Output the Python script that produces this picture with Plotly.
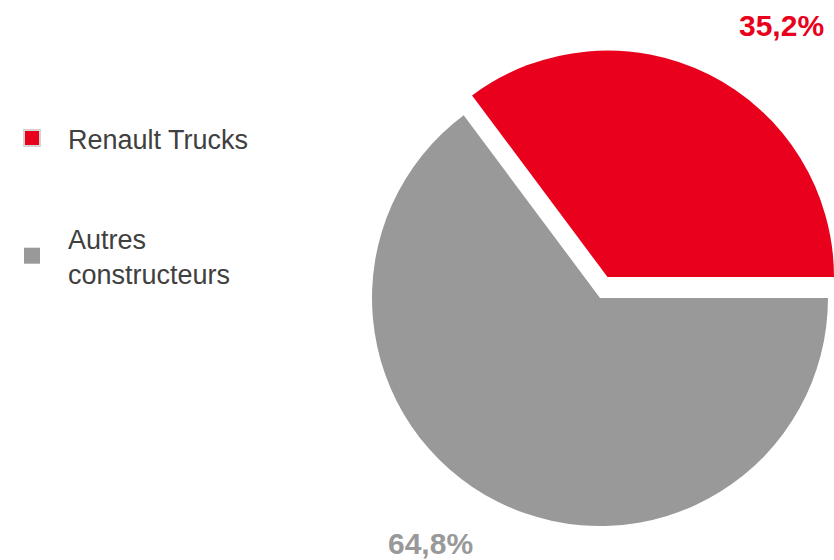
import plotly.graph_objects as go

# ---- data ----
labels = ["Renault Trucks", "Autres constructeurs"]
legend_names = ["Renault Trucks", "Autres<br>constructeurs"]
values = [35.2, 64.8]

RED = "#E8001C"
GRAY = "#999999"
colors = [RED, GRAY]
CLEAR = "rgba(0,0,0,0)"
W, H = 834, 560
FONT = "Arial, 'Liberation Sans', sans-serif"


def fmt(v):
    return f"{v:.1f}".replace(".", ",") + "%"


def px_dom(x0, x1, y0, y1):
    x1 = min(x1, W)
    return dict(x=[x0 / W, x1 / W], y=[(H - y1) / H, (H - y0) / H])


def px_x(x):
    return x / W


def px_y(y):
    return (H - y) / H


total = sum(values)
start_rot = 90 - 360 * values[0] / total

fig = go.Figure()

# gray slice (unshifted)
fig.add_trace(go.Pie(
    labels=labels, values=values, sort=False, direction="clockwise",
    rotation=start_rot, marker=dict(colors=[CLEAR, GRAY], line=dict(width=0)),
    textinfo="none", hoverinfo="label+percent", showlegend=False,
    domain=px_dom(372, 828, 70, 526),
))
# red slice (pulled out)
fig.add_trace(go.Pie(
    labels=labels, values=values, sort=False, direction="clockwise",
    rotation=start_rot, marker=dict(colors=[RED, CLEAR], line=dict(width=0)),
    textinfo="none", hoverinfo="label+percent", showlegend=False,
    domain=px_dom(381, 837, 50, 504),
))

# legend entries
for i, (name, c) in enumerate(zip(legend_names, colors)):
    fig.add_trace(go.Scatter(
        x=[None], y=[None], mode="markers", name=name, legendgroup=f"g{i}",
        marker=dict(symbol="square", size=16, color=c,
                    line=dict(color="#d4d4d4" if i == 0 else c, width=2 if i == 0 else 0)),
    ))

# value labels
label_pos = [(781.5, 26), (430, 543)]
for v, c, (x, y) in zip(values, colors, label_pos):
    fig.add_annotation(
        x=px_x(x), y=px_y(y), xref="paper", yref="paper", showarrow=False,
        text=f"<b>{fmt(v)}</b>", font=dict(family=FONT, size=30, color=c),
        xanchor="center", yanchor="middle",
    )

fig.update_layout(
    width=W, height=H, margin=dict(l=0, r=0, t=0, b=0, autoexpand=False),
    paper_bgcolor="white", plot_bgcolor="white",
    xaxis=dict(visible=False), yaxis=dict(visible=False),
    font=dict(family=FONT, size=27, color="#404040"),
    legend=dict(x=0, y=(H - 114) / H, xanchor="left", yanchor="top",
                indentation=-4,
                itemwidth=62, traceorder="grouped", tracegroupgap=62,
                bgcolor="rgba(0,0,0,0)", font=dict(size=27, color="#404040")),
    showlegend=True,
)

fig.write_html(
    "out.html",
    config={"displayModeBar": False},
    post_script="document.body.style.margin='0px';document.body.style.overflow='hidden';",
)
